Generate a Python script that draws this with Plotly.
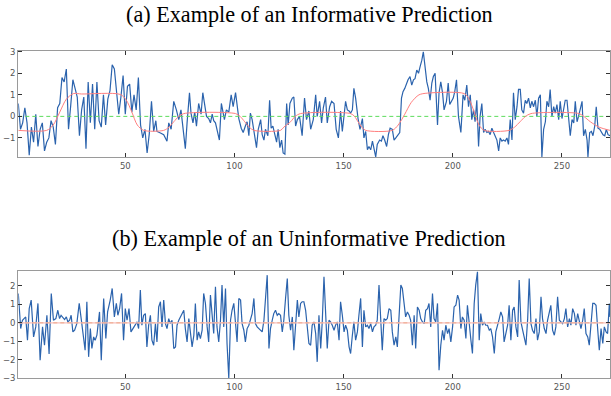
import plotly.graph_objects as go

# ---------------- data ----------------
top_idx = list(range(1, 65))
top_vals_a = [0.6, -0.6, -0.3, 0.4, -0.3, -1.8, -0.5, -1.2, 0.1, -1.4,
              -0.6, -0.3, -1.6, -1.2, -1.0, -0.2, -0.5, -1.3, 0.4, 0.6,
              1.8, 1.6, 2.2, -0.6, 0.5, 1.7, 1.3, 0.9, -0.9, 0.3,
              0.9, -1.5, 1.6, -0.3, 1.5, -0.6, 1.6, -0.2, -0.5, 1.0,
              -0.4, 0.8, 1.2, 2.4, 2.2, 1.0, 0.1, 0.9, 1.9, 0.1,
              1.4, 1.5, 0.2, 1.0, 0.3, 1.8, -0.4, -1.0, -0.6, -1.7,
              -0.8, 0.7, -0.7, -0.2]

top_pts_b = [(64.5,-0.7),(66.1,-0.77),(67.6,-0.85),(69.1,-1.15),(69.9,-0.3),(71.0,-0.6),(72.2,0.7),(73.4,0.3),(74.5,-0.15),(75.5,0.3),
 (76.5,-0.6),(77.5,-1.5),(78.3,-0.3),(79.4,1.1),(80.1,0.15),(81.0,-0.3),(81.8,0.2),(82.6,-0.45),(83.6,0.6),(84.7,0.1),
 (85.5,1.1),(86.4,0.55),(87.2,0.0),(88.2,-0.1),(89.0,-0.3),(89.8,0.1),(90.5,-0.2),(91.3,-0.3),(92.0,-0.6),(93.1,-1.1),
 (94.0,0.6),(94.8,0.1),(95.4,-0.15),(96.3,0.3),(97.4,0.2),(98.5,1.0),(99.4,0.45),(100.5,1.1),(101.2,0.6),(102.0,-0.1),
 (103.1,-0.55),(104.0,-0.75),(105.0,-0.45),(105.8,-0.25),(106.6,-0.9),(107.3,0.15),(108.1,-0.15),(109.2,-0.9),(110.1,-1.45),(110.9,-0.6),
 (112.0,-0.15),(112.7,-0.85),(113.5,-1.1),(114.2,-0.6),(115.3,-0.9),(116.1,0.75),(116.8,-0.55),(117.6,-0.45),(118.4,-0.85),(119.3,-1.2),
 (120.0,-0.6),(120.8,-1.45),(121.6,-1.1),(122.3,-1.7),(123.1,-1.75),(123.9,0.6),(124.6,-0.4),(125.4,0.6),(126.5,0.85),(127.2,0.9),
 (128.0,-0.45),(128.8,-0.15),(129.8,0.0),(131.0,-0.9),(132.1,0.85),(133.0,-0.15),(134.1,0.25)]

top_pts_c = [(134.9,-0.6),(136.1,-0.15),(137.2,1.0),(137.9,0.0),(139.0,0.7),(139.9,-0.3),(140.7,0.4),(141.7,0.9),(142.5,-0.3),(143.6,0.45),
 (144.5,0.7),(145.6,0.6),(146.6,-0.6),(147.6,-1.0),(148.6,0.25),(149.4,-0.7),(150.2,0.25),(150.9,0.7),(151.7,0.3),(152.5,0.25),
 (153.2,0.15),(154.0,0.3),(154.7,1.3),(155.5,0.85),(156.6,-0.1),(157.5,-0.6),(158.6,-0.1),(159.3,-1.0),(160.1,-0.7),(160.9,-1.55),
 (161.6,-1.4),(162.4,-1.55),(163.2,-1.15),(163.9,-1.55),(164.7,-1.88),(165.4,-1.3),(166.5,-1.1),(167.3,-1.15),(168.0,-0.9),(168.8,-1.1),
 (169.7,-1.4),(170.5,-0.85),(171.3,-0.55),(172.3,-0.6),(173.1,-1.1),(173.9,-1.0),(174.6,-0.9),(175.7,-0.75),(176.5,0.85),(177.2,1.15),
 (178.0,1.3),(178.9,1.55),(179.5,1.7),(180.4,1.85),(181.2,1.45),(182.0,1.7),(182.7,1.75),(183.5,2.15),(184.3,2.0),(185.0,2.3),
 (185.8,2.6),(186.5,3.0),(187.3,2.3),(188.1,1.6),(188.8,1.3),(189.6,0.75),(190.4,1.55),(191.1,1.85),(191.9,2.0),(193.0,-0.4),
 (193.7,1.1),(194.5,1.6),(195.3,1.1),(196.0,0.3),(197.1,0.7),(197.9,1.55),(198.6,0.55),(199.4,0.7),(200.2,0.85),(200.9,1.15),
 (201.7,1.7),(202.6,0.0)]

top_pts_d = [(203.7,-0.75),(204.7,1.0),(205.5,0.75),(206.4,1.45),(207.2,0.45),(208.0,1.0),(208.7,-0.15),(209.5,0.3),(210.2,-0.25),(211.0,0.75),
 (211.8,-1.4),(212.5,0.0),(213.3,0.6),(214.1,-0.75),(214.8,-0.6),(215.6,-0.75),(216.4,-0.7),(217.1,-0.85),(217.9,-0.55),(218.7,-0.75),
 (219.4,-0.9),(220.2,-1.1),(221.0,-1.6),(221.7,-1.0),(222.5,-1.15),(223.2,-1.1),(224.0,-1.15),(224.8,-1.0),(225.5,-1.3),(226.3,-0.15),
 (227.1,-1.1),(227.8,1.1),(228.6,-0.15),(229.4,0.45),(230.1,1.25),(230.9,1.25),(231.6,0.3),(232.4,0.15),(233.2,0.75),(233.9,0.6),
 (234.7,0.85),(235.5,0.4),(236.2,0.7),(237.0,0.45),(237.8,0.75),(238.5,0.0),(239.3,0.85),(240.1,1.0),(240.8,-1.88),(241.6,-0.6),
 (242.4,-0.25),(243.1,0.7),(243.9,0.45),(244.6,1.25),(245.4,0.0),(246.2,0.45),(246.9,0.15),(247.7,0.55),(248.5,-0.15),(249.2,0.7),
 (250.0,-0.1),(250.8,0.4),(251.5,0.75),(252.3,0.75),(253.1,-0.15),(253.8,-0.9),(254.6,-0.15),(255.4,-0.3),(256.1,0.7),(256.9,-0.25),
 (257.6,0.0),(258.4,0.4),(259.2,0.7),(259.9,-0.9),(260.7,-0.6),(261.5,-1.1),(261.9,-1.88),(262.7,-0.75),(263.5,-0.7),(264.2,-0.9),
 (265.0,-0.45),(265.7,0.45),(266.5,-0.55),(267.3,-0.6),(268.0,-0.7),(268.8,-0.85),(269.6,-0.9),(270.3,-0.6),(271.1,-0.85),(272.0,-0.9)]

# informative prediction (smooth red curve), knots
pred_pts = [(1,-0.65),(14,-0.65),(17,-0.4),(20,0.2),(23,0.8),(26.3,1.06),(30,1.04),(47.7,1.02),(50.5,0.75),(53,0.2),(55.5,-0.4),(58.4,-0.65),
 (67.6,-0.65),(70,-0.5),(72.2,-0.25),(74.5,0.0),(76.8,0.13),(100.5,0.13),(102.6,0.0),(104.7,-0.25),(106.8,-0.5),(108.9,-0.65),
 (121.1,-0.65),(122.6,-0.5),(125.7,-0.25),(127.8,0.0),(130.3,0.13),(153.2,0.13),(155,0.0),(156.6,-0.25),(158.3,-0.5),(160.1,-0.65),
 (172.3,-0.65),(175,-0.4),(178,0.1),(181,0.65),(184.5,1.0),(188.4,1.08),(205.2,1.06),(207.5,0.8),(209.8,0.2),(212,-0.4),(214.4,-0.65),
 (225.8,-0.65),(228.3,-0.5),(230.8,-0.25),(233.3,0.0),(235.8,0.13),(257.9,0.13),(260,0.0),(263,-0.25),(267,-0.5),(272,-0.65)]

bot_pts = [(1,1.59),(2.1,-0.31),(2.9,0.14),(3.7,0.23),(4.4,0.32),(5.2,-0.94),(6.0,0.77),(6.9,1.23),(8.0,-0.76),(9.0,-0.22),
 (10.0,1.05),(11.0,-2.02),(12.1,-0.22),(13.0,-1.21),(14.1,0.41),(15.1,-1.69),(16.1,1.59),(17.1,0.14),(18.2,0.23),(19.1,0.68),
 (19.9,0.23),(20.6,0.41),(21.4,0.32),(22.2,0.18),(23.0,0.32),(23.7,0.05),(24.5,0.14),(25.2,0.41),(26.0,-0.49),(26.8,-0.40),
 (27.8,-0.04),(28.9,1.05),(29.8,0.23),(30.9,-1.03),(31.6,-1.48),(32.4,1.14),(33.2,-1.84),(34.0,-0.31),(34.7,-1.39),(35.5,-0.76),
 (36.2,-0.94),(37.0,-0.67),(38.2,0.59),(39.0,-2.02),(40.1,1.32),(41.1,-0.85),(41.9,0.59),(43.1,1.23),(44.0,1.86),(45.0,0.32),
 (45.9,1.05),(46.6,0.41),(47.4,0.77),(48.3,1.59),(49.2,-0.94),(50.0,0.77),(50.8,0.14),(51.7,0.77),(52.6,-0.49),(53.5,-0.31),
 (54.4,-0.13),(55.4,0.05),(56.1,-0.31),(56.9,1.77),(57.6,-0.13),(58.4,0.41),(59.2,0.50),(59.9,-1.30),(60.7,-0.13),(61.5,0.41),
 (62.2,-0.94),(63.0,-1.21),(63.8,-0.04),(64.5,-1.03),(65.3,0.86),
 (66.1,1.14),(66.8,-0.22),(67.6,1.23),(68.4,-0.04),(69.1,-0.31),(69.9,0.23),(70.6,-0.04),(71.4,0.14),(72.2,-1.39),(73.0,-1.30),
 (73.7,-0.13),(74.5,0.14),(75.2,0.32),(76.0,0.50),(76.8,0.68),(77.5,-0.31),(78.3,-1.03),(79.1,0.23),(79.8,-0.40),(80.6,-1.30),
 (81.4,-0.67),(82.1,1.05),(82.9,-0.94),(83.6,-0.49),(84.4,-0.85),(85.2,-0.40),(85.9,1.59),(86.7,1.05),(87.5,-0.22),(88.2,-1.03),
 (89.0,1.50),(89.8,0.23),(90.5,-0.58),(91.3,1.95),(92.0,-0.22),(92.8,-1.03),(93.6,0.14),(94.3,2.04),(95.1,-0.22),(95.9,1.86),
 (96.6,-1.12),(97.4,-3.0),(98.2,0.14),(98.9,0.68),(99.7,1.05),(100.5,-0.04),(101.2,-1.03),(102.0,1.32),(102.8,1.23),(103.5,-0.04),
 (104.3,-0.40),(105.0,-1.03),(105.8,-0.31),(106.6,-0.13),(107.3,0.23),(108.1,0.50),(108.9,1.32),(109.6,-0.04),(110.4,-0.22),(111.2,-0.31),
 (111.9,-0.40),(112.7,-0.49),(113.5,0.14),(114.2,1.23),(115.0,2.58),(115.8,-1.39),(116.5,-0.31),(117.3,0.14),(118.0,0.50),(118.8,0.68),
 (119.6,0.41),(120.3,0.50),(121.1,0.41),(121.9,-0.49),(122.6,0.14),(123.4,1.32),(124.2,2.40),(124.9,0.41),(125.7,-0.40),(126.5,0.32),
 (127.2,-1.48),(128.0,-0.13),(128.8,1.23),(129.5,0.32),(130.3,1.05),(131.0,1.14),(131.8,1.14),(132.6,0.68),(133.3,-0.40),(134.1,-1.12),
 (134.9,-1.21),(135.6,-0.13),(136.4,0.05),(137.2,-0.58),(137.9,-2.11),(138.7,0.41),(139.5,-1.39),(140.2,0.05),(141.0,2.49),(141.8,0.23),
 (142.5,-1.39),(143.3,0.14),(144.0,0.05),(144.8,-0.13),(145.6,-0.40),(146.3,-0.13),(147.1,0.05),(147.9,-0.94),(148.6,1.14),(149.4,0.41),
 (150.2,-0.49),(150.9,-0.13),(151.7,-0.40),(152.5,-1.30),(153.2,-1.66),(154.0,-0.67),(154.7,0.05),(155.5,-0.94),(156.3,-0.49),(157.0,0.41),
 (157.8,1.32),(158.6,-1.30),(159.3,0.68),(160.1,-0.22),(160.9,-0.13),(161.6,-0.31),(162.4,-0.04),(163.2,-0.49),(163.9,-0.22),(164.7,-0.13),
 (165.4,0.14),(166.2,2.04),(167.0,0.05),(167.7,-1.48),(168.5,0.23),(169.3,0.14),(170.0,0.23),(170.8,0.77),(171.6,0.68),(172.3,-0.49),
 (173.1,-1.21),(173.9,-0.76),(174.6,-1.30),(175.4,0.23),(176.2,2.04),(176.9,1.86),(177.7,1.05),(178.4,0.32),(179.2,0.59),(180.0,0.41),
 (180.7,0.14),(181.5,-1.21),(182.3,0.41),(183.0,-1.39),(183.8,0.86),(184.6,0.68),(185.3,0.23),(186.1,0.05),(186.9,-0.04),(187.6,0.68),
 (188.4,0.77),(189.1,1.05),(189.9,-0.22),(190.7,1.59),(191.4,0.23),(192.2,0.05),(193.0,1.05),(193.7,-2.56),(194.5,-1.21),(195.3,-0.40),
 (196.0,-0.94),(196.8,-0.13),(197.6,-0.58),(198.3,-0.31),(199.1,-1.03),(199.9,-0.22),(200.6,0.86),(201.4,0.95),(202.2,1.50),(202.9,1.23),
 (203.7,-0.31),(204.4,0.32),(205.2,0.14),(206.0,-0.85),(206.7,0.95),(207.5,-0.22),(208.3,-0.94),(209.0,-1.66),(209.8,1.05),(210.5,2.04),
 (211.3,2.76),(212.1,-0.94),(212.8,0.50),(213.6,-0.13),(214.4,0.05),(215.1,-0.13),(215.9,-0.13),(216.7,-0.40),(217.4,-0.31),(218.2,-0.76),
 (219.0,-1.66),(219.7,-0.49),(220.5,-0.04),(221.3,0.23),(222.0,0.59),(222.8,0.32),(223.5,-1.03),(224.3,-0.58),(225.1,-0.13),(225.8,0.95),
 (226.6,-0.94),(227.4,0.68),(228.1,0.86),(228.9,-0.22),(229.7,-0.76),(230.4,2.31),(231.2,0.05),(232.0,-0.40),(232.7,-0.76),(233.5,-1.21),
 (234.3,0.23),(235.0,2.40),(235.8,-0.04),(236.5,-0.40),(237.3,-0.58),(238.1,0.23),(238.8,-0.94),(239.6,-0.49),(240.4,1.41),(241.1,0.23),
 (241.9,-0.31),(242.7,-0.58),(243.4,0.14),(244.2,0.68),(244.9,0.95),(245.7,-0.40),(246.5,-0.67),(247.2,-0.22),(248.0,1.41),(248.8,0.14),
 (249.5,0.05),(250.3,-0.04),(251.1,0.23),(251.8,0.77),(252.6,-0.22),(253.4,0.23),(254.1,-0.13),(254.9,0.77),(255.7,0.50),(256.4,-0.13),
 (257.2,0.50),(257.9,0.14),(258.7,-0.31),(259.5,0.14),(260.2,0.77),(261.0,-0.58),(261.8,-0.76),(262.5,-1.21),(263.3,0.14),(264.1,1.05),
 (264.8,1.05),(265.6,0.95),(266.4,-0.40),(267.1,-1.48),(267.9,-0.31),(268.7,-1.12),(269.4,-0.22),(270.2,-0.49),(270.9,-0.58),(271.7,1.05),
 (272.0,0.32)]

x_span = [1, 272]
zero_line = [0, 0]
x_ticks = [50, 100, 150, 200, 250]
top_yticks = [-1, 0, 1, 2, 3]
bot_yticks = [-3, -2, -1, 0, 1, 2]
titles = ["(a) Example of an Informative Prediction", "(b) Example of an Uninformative Prediction"]

# ---------------- figure ----------------
BLUE = "#2b63ad"
top_x = top_idx + [p[0] for p in top_pts_b + top_pts_c + top_pts_d]
top_y = top_vals_a + [p[1] for p in top_pts_b + top_pts_c + top_pts_d]

fig = go.Figure()
fig.add_trace(go.Scatter(x=top_x, y=top_y, mode="lines", line=dict(color=BLUE, width=1.2),
                         xaxis="x", yaxis="y", hoverinfo="skip"))
fig.add_trace(go.Scatter(x=x_span, y=zero_line, mode="lines",
                         line=dict(color="#5ddc5d", width=1, dash="4px,3px"), xaxis="x", yaxis="y"))
fig.add_trace(go.Scatter(x=[p[0] for p in pred_pts], y=[p[1] for p in pred_pts], mode="lines",
                         line=dict(color="#ff7f7f", width=1, shape="spline", smoothing=0.8),
                         xaxis="x", yaxis="y"))

fig.add_trace(go.Scatter(x=[p[0] for p in bot_pts], y=[p[1] for p in bot_pts], mode="lines",
                         line=dict(color=BLUE, width=1.2), xaxis="x2", yaxis="y2"))
fig.add_trace(go.Scatter(x=x_span, y=zero_line, mode="lines",
                         line=dict(color="#f8c0bc", width=1.3), xaxis="x2", yaxis="y2"))
fig.add_trace(go.Scatter(x=x_span, y=zero_line, mode="lines",
                         line=dict(color="#eea889", width=1, dash="4px,3px"), xaxis="x2", yaxis="y2"))

W, H = 611, 396
xdom = [18.3 / W, 610 / W]
axis_common = dict(showline=True, linecolor="#9a9a9a", linewidth=1.3, mirror="ticks",
                   ticks="inside", ticklen=4, tickcolor="#333", tickwidth=1,
                   showgrid=False, zeroline=False, automargin=False,
                   tickfont=dict(family="DejaVu Sans", size=8.5, color="#555"))

fig.update_layout(
    width=W, height=H, margin=dict(l=0, r=0, t=0, b=0),
    paper_bgcolor="white", plot_bgcolor="white", showlegend=False,
    xaxis=dict(domain=xdom, range=x_span, tickvals=x_ticks, anchor="y", **axis_common),
    yaxis=dict(domain=[1 - 157.3 / H, 1 - 50.7 / H], range=[-1.9, 3.05], tickvals=top_yticks,
               anchor="x", **axis_common),
    xaxis2=dict(domain=xdom, range=x_span, tickvals=x_ticks, anchor="y2", **axis_common),
    yaxis2=dict(domain=[1 - 378.3 / H, 1 - 270.7 / H], range=[-3.0, 2.82], tickvals=bot_yticks,
                anchor="x2", **axis_common),
    annotations=[
        dict(text=titles[0], x=0.506, y=1 - 15 / H, xref="paper", yref="paper", showarrow=False,
             xanchor="center", yanchor="middle",
             font=dict(family="Liberation Serif", size=22.2, color="#000")),
        dict(text=titles[1], x=0.506, y=1 - 239 / H, xref="paper", yref="paper", showarrow=False,
             xanchor="center", yanchor="middle",
             font=dict(family="Liberation Serif", size=22.2, color="#000")),
    ],
)

fig.write_html("out.html")
